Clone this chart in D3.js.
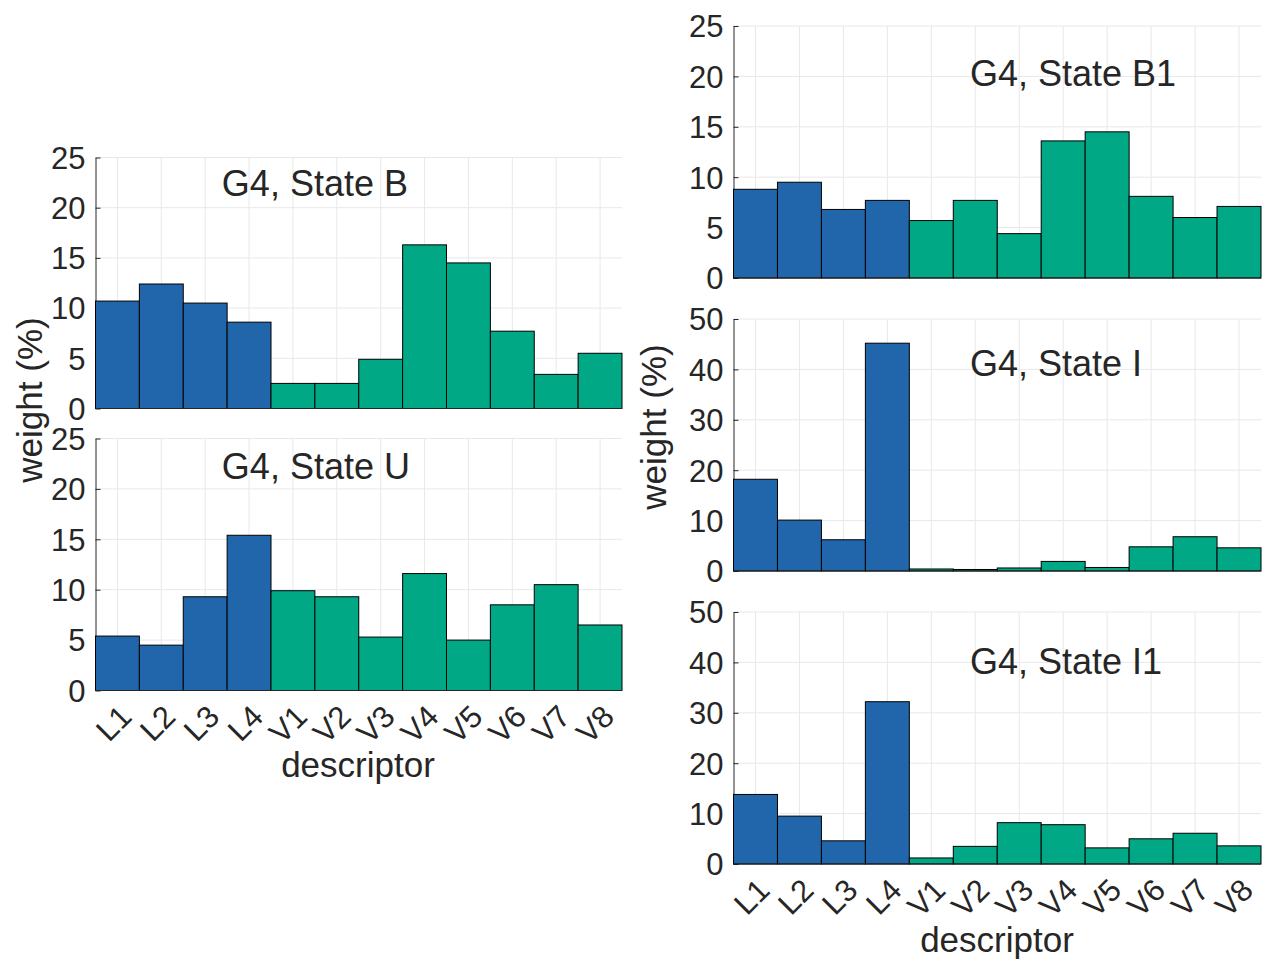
<!DOCTYPE html>
<html>
<head>
<meta charset="utf-8">
<script src="https://cdn.jsdelivr.net/npm/d3@7"></script>
<style>
  html, body { margin: 0; padding: 0; background: #ffffff; }
  svg { display: block; }
  text { font-family: "Liberation Sans", Arial, Helvetica, sans-serif; fill: #262626; }
</style>
</head>
<body>
<svg id="chart" width="1263" height="963"></svg>
<script>
// Descriptor categories (L = length-type, V = velocity-type)
const descriptors = ["L1", "L2", "L3", "L4", "V1", "V2", "V3", "V4", "V5", "V6", "V7", "V8"];

// Weight (%) of each descriptor, one array per state
const stateB  = [10.7, 12.4, 10.5, 8.6, 2.5, 2.5, 4.9, 16.3, 14.5, 7.7, 3.4, 5.5];
const stateU  = [5.4, 4.5, 9.3, 15.4, 9.9, 9.3, 5.3, 11.6, 5.0, 8.5, 10.5, 6.5];
const stateB1 = [8.8, 9.5, 6.8, 7.7, 5.7, 7.7, 4.4, 13.6, 14.5, 8.1, 6.0, 7.1];
const stateI  = [18.2, 10.1, 6.2, 45.2, 0.4, 0.3, 0.6, 1.9, 0.7, 4.8, 6.8, 4.6];
const stateI1 = [13.8, 9.5, 4.6, 32.2, 1.2, 3.5, 8.2, 7.8, 3.2, 5.0, 6.1, 3.6];

// Y tick values
const ticks25 = [0, 5, 10, 15, 20, 25];
const ticks50 = [0, 10, 20, 30, 40, 50];

const colorL = "#2166ab";
const colorV = "#00a886";
const axisColor = "#262626";
const gridColor = "#e8e8e8";

const svg = d3.select("#chart");

// Panel layout: plotting box, y range, title anchor (category index, y value)
const panels = [
  { values: stateB,  title: "G4, State B",  ticks: ticks25, left: 95.5,  right: 622,  top: 157.5, bottom: 408.5, showX: false, tx: 3.38, ty: 21.2 },
  { values: stateU,  title: "G4, State U",  ticks: ticks25, left: 95.5,  right: 622,  top: 438.5, bottom: 690.5, showX: true,  tx: 3.38, ty: 21.0 },
  { values: stateB1, title: "G4, State B1", ticks: ticks25, left: 733.5, right: 1261, top: 26,    bottom: 278,   showX: false, tx: 5.88, ty: 19.0 },
  { values: stateI,  title: "G4, State I",  ticks: ticks50, left: 733.5, right: 1261, top: 319,   bottom: 571,   showX: false, tx: 5.88, ty: 38.7 },
  { values: stateI1, title: "G4, State I1", ticks: ticks50, left: 733.5, right: 1261, top: 612,   bottom: 864,   showX: true,  tx: 5.88, ty: 37.7 }
];

panels.forEach(p => {
  const g = svg.append("g");
  const yMax = d3.max(p.ticks);

  const x = d3.scaleBand()
    .domain(descriptors)
    .range([p.left, p.right])
    .paddingInner(0).paddingOuter(0);
  const y = d3.scaleLinear().domain([0, yMax]).range([p.bottom, p.top]);

  // Continuous x scale for placing the panel title by category index
  const xi = d3.scaleLinear().domain([0.5, descriptors.length + 0.5]).range([p.left, p.right]);

  // grid
  g.append("g").selectAll("line.hg")
    .data(p.ticks.filter(t => t > 0))
    .join("line")
    .attr("x1", p.left).attr("x2", p.right)
    .attr("y1", d => y(d)).attr("y2", d => y(d))
    .attr("stroke", gridColor).attr("stroke-width", 1);
  g.append("g").selectAll("line.vg")
    .data(descriptors)
    .join("line")
    .attr("x1", d => x(d) + x.bandwidth() / 2).attr("x2", d => x(d) + x.bandwidth() / 2)
    .attr("y1", p.top).attr("y2", p.bottom)
    .attr("stroke", gridColor).attr("stroke-width", 1);

  // y axis
  const yAxis = d3.axisLeft(y).tickValues(p.ticks).tickSizeInner(-5).tickSizeOuter(0).tickPadding(10);
  const ya = g.append("g").attr("transform", `translate(${p.left},0)`).call(yAxis);
  ya.select(".domain").attr("stroke", axisColor).attr("stroke-width", 1);
  ya.selectAll(".tick line").attr("stroke", axisColor).attr("stroke-width", 1);
  ya.selectAll(".tick text")
    .attr("font-size", 31)
    .attr("font-family", "\"Liberation Sans\", Arial, Helvetica, sans-serif")
    .attr("fill", axisColor)
    .attr("dy", "0.35em");

  // bars
  g.append("g").selectAll("rect")
    .data(p.values.map((v, i) => ({ name: descriptors[i], value: v })))
    .join("rect")
    .attr("x", d => x(d.name))
    .attr("width", x.bandwidth())
    .attr("y", d => y(d.value))
    .attr("height", d => y(0) - y(d.value))
    .attr("fill", d => d.name.startsWith("L") ? colorL : colorV)
    .attr("stroke", "#000000")
    .attr("stroke-width", 1);

  // x axis baseline
  g.append("line")
    .attr("x1", p.left).attr("x2", p.right)
    .attr("y1", p.bottom).attr("y2", p.bottom)
    .attr("stroke", axisColor).attr("stroke-width", 1);

  // rotated category labels
  if (p.showX) {
    g.append("g").selectAll("text")
      .data(descriptors)
      .join("text")
      .attr("transform", d => `translate(${x(d) + x.bandwidth() / 2 + 16},${p.bottom + 28}) rotate(-45)`)
      .attr("text-anchor", "end")
      .attr("font-size", 31)
      .text(d => d);
  }

  // panel title
  g.append("text")
    .attr("x", xi(p.tx))
    .attr("y", y(p.ty))
    .attr("font-size", 36)
    .attr("fill", "#000000")
    .text(p.title);
});

// axis titles
svg.append("text")
  .attr("transform", "translate(42,400) rotate(-90)")
  .attr("text-anchor", "middle")
  .attr("font-size", 35)
  .text("weight (%)");
svg.append("text")
  .attr("transform", "translate(666,427) rotate(-90)")
  .attr("text-anchor", "middle")
  .attr("font-size", 35)
  .text("weight (%)");
svg.append("text")
  .attr("x", 358).attr("y", 777)
  .attr("text-anchor", "middle")
  .attr("font-size", 35)
  .text("descriptor");
svg.append("text")
  .attr("x", 997).attr("y", 952)
  .attr("text-anchor", "middle")
  .attr("font-size", 35)
  .text("descriptor");
</script>
</body>
</html>
